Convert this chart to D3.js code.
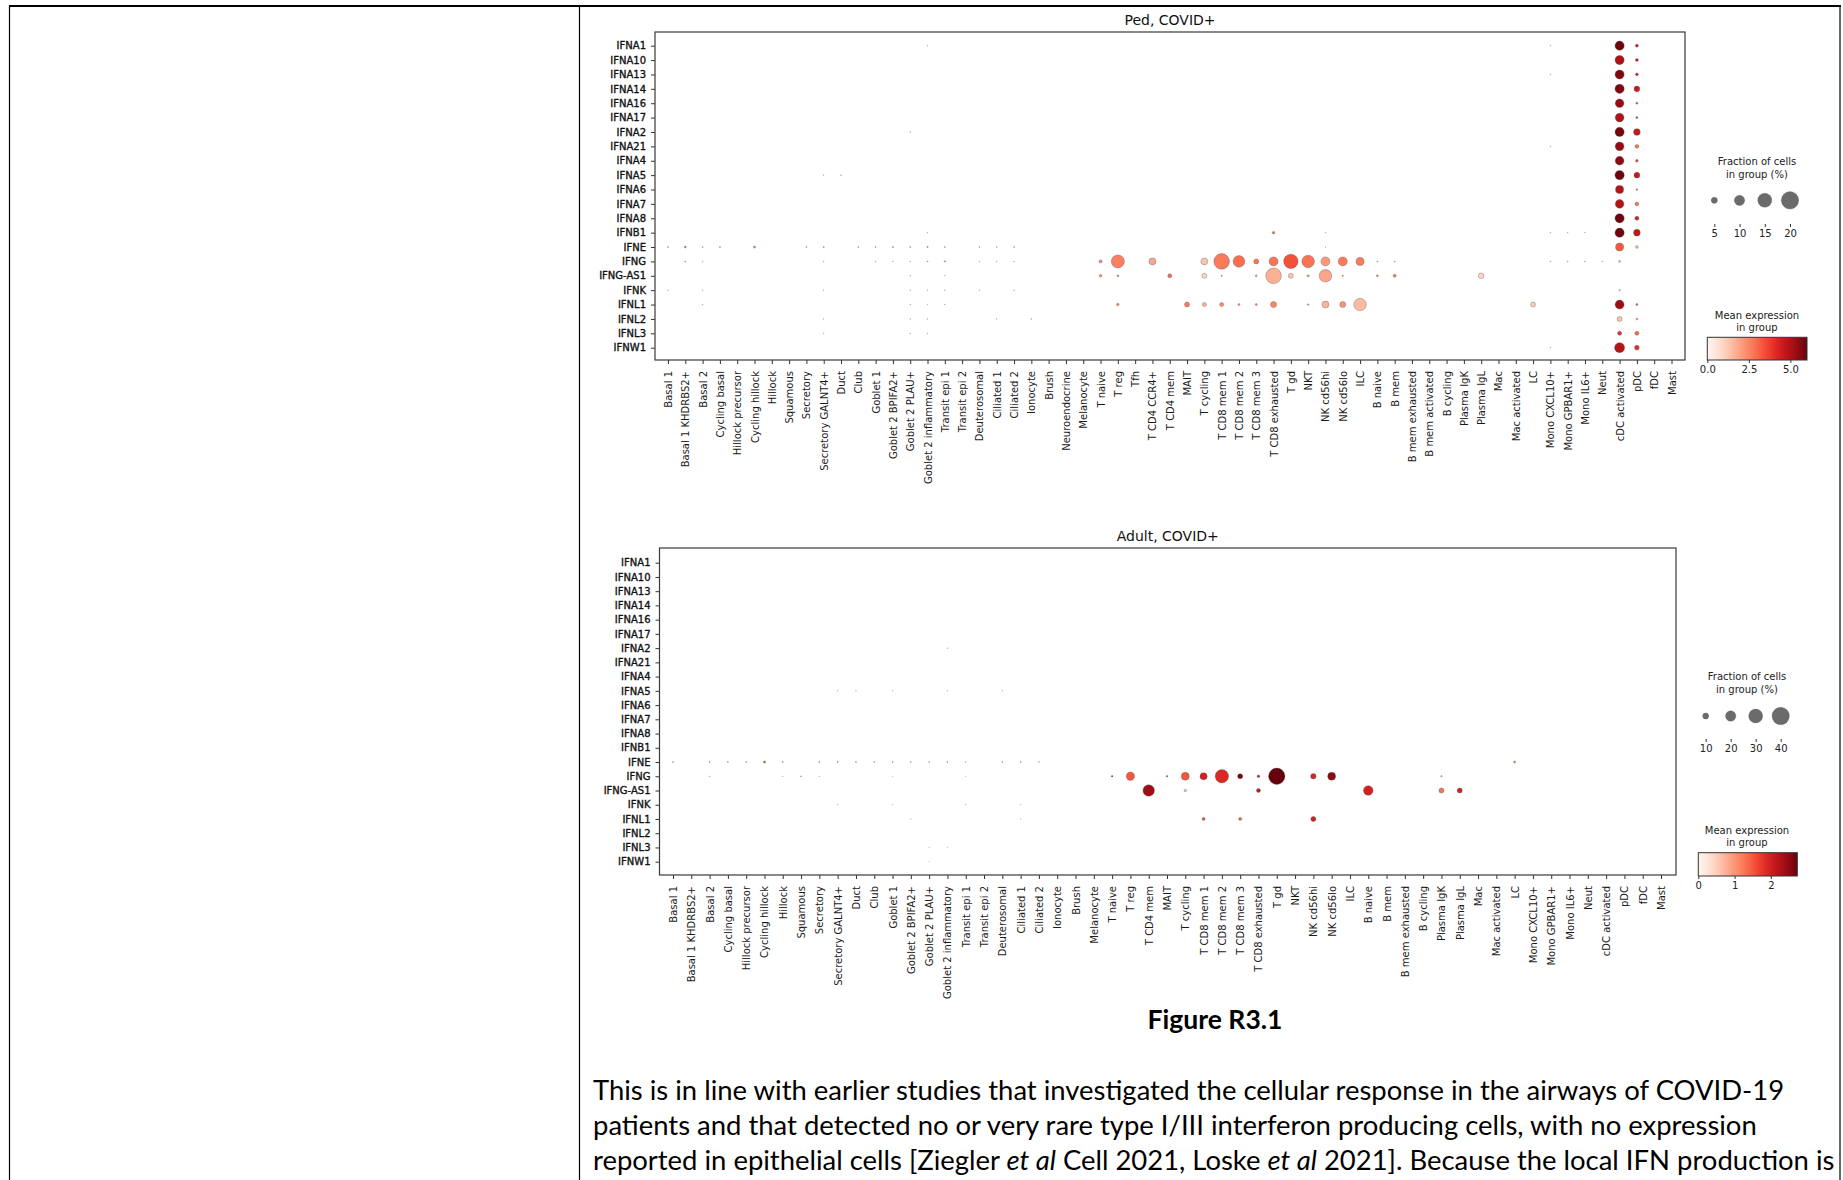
<!DOCTYPE html>
<html>
<head>
<meta charset="utf-8">
<script src="https://cdn.jsdelivr.net/npm/d3@7"></script>
<style>
  body { margin: 0; background: #fff; }
  svg text { font-family: "DejaVu Sans", sans-serif; }
</style>
</head>
<body>
<svg id="fig" width="1843" height="1180"></svg>
<script>
// ---- data ----
const genes = ["IFNA1", "IFNA10", "IFNA13", "IFNA14", "IFNA16", "IFNA17", "IFNA2", "IFNA21",
  "IFNA4", "IFNA5", "IFNA6", "IFNA7", "IFNA8", "IFNB1", "IFNE", "IFNG", "IFNG-AS1", "IFNK",
  "IFNL1", "IFNL2", "IFNL3", "IFNW1"];

const pedCells = ["Basal 1", "Basal 1 KHDRBS2+", "Basal 2", "Cycling basal", "Hillock precursor",
  "Cycling hillock", "Hillock", "Squamous", "Secretory", "Secretory GALNT4+", "Duct", "Club",
  "Goblet 1", "Goblet 2 BPIFA2+", "Goblet 2 PLAU+", "Goblet 2 inflammatory", "Transit epi 1",
  "Transit epi 2", "Deuterosomal", "Ciliated 1", "Ciliated 2", "Ionocyte", "Brush",
  "Neuroendocrine", "Melanocyte", "T naive", "T reg", "Tfh", "T CD4 CCR4+", "T CD4 mem", "MAIT",
  "T cycling", "T CD8 mem 1", "T CD8 mem 2", "T CD8 mem 3", "T CD8 exhausted", "T gd", "NKT",
  "NK cd56hi", "NK cd56lo", "ILC", "B naive", "B mem", "B mem exhausted", "B mem activated",
  "B cycling", "Plasma IgK", "Plasma IgL", "Mac", "Mac activated", "LC", "Mono CXCL10+",
  "Mono GPBAR1+", "Mono IL6+", "Neut", "cDC activated", "pDC", "fDC", "Mast"];

const adultCells = ["Basal 1", "Basal 1 KHDRBS2+", "Basal 2", "Cycling basal", "Hillock precursor",
  "Cycling hillock", "Hillock", "Squamous", "Secretory", "Secretory GALNT4+", "Duct", "Club",
  "Goblet 1", "Goblet 2 BPIFA2+", "Goblet 2 PLAU+", "Goblet 2 inflammatory", "Transit epi 1",
  "Transit epi 2", "Deuterosomal", "Ciliated 1", "Ciliated 2", "Ionocyte", "Brush", "Melanocyte",
  "T naive", "T reg", "T CD4 mem", "MAIT", "T cycling", "T CD8 mem 1", "T CD8 mem 2",
  "T CD8 mem 3", "T CD8 exhausted", "T gd", "NKT", "NK cd56hi", "NK cd56lo", "ILC", "B naive",
  "B mem", "B mem exhausted", "B cycling", "Plasma IgK", "Plasma IgL", "Mac", "Mac activated",
  "LC", "Mono CXCL10+", "Mono GPBAR1+", "Mono IL6+", "Neut", "cDC activated", "pDC", "fDC", "Mast"];

// [gene, cell type, fraction of cells (%), mean expression]
const pedDots = [
  ["IFNA1", "Goblet 2 inflammatory", 0.3, 0.4], ["IFNA1", "Mono CXCL10+", 0.3, 0.4],
  ["IFNA1", "cDC activated", 8.6, 5.9], ["IFNA1", "pDC", 1.9, 4.5],
  ["IFNA10", "cDC activated", 8.6, 5.0], ["IFNA10", "pDC", 1.9, 4.3],
  ["IFNA13", "Mono CXCL10+", 0.3, 0.4], ["IFNA13", "cDC activated", 8.4, 5.7], ["IFNA13", "pDC", 1.7, 4.4],
  ["IFNA14", "cDC activated", 8.6, 5.7], ["IFNA14", "pDC", 4.6, 4.6],
  ["IFNA16", "cDC activated", 7.8, 5.4], ["IFNA16", "pDC", 1.1, 3.6],
  ["IFNA17", "cDC activated", 8.0, 5.0], ["IFNA17", "pDC", 1.1, 4.0],
  ["IFNA2", "Goblet 2 PLAU+", 0.3, 0.4], ["IFNA2", "cDC activated", 8.6, 5.8], ["IFNA2", "pDC", 5.6, 4.6],
  ["IFNA21", "Mono CXCL10+", 0.3, 0.4], ["IFNA21", "cDC activated", 8.0, 5.4], ["IFNA21", "pDC", 2.6, 2.8],
  ["IFNA4", "cDC activated", 8.0, 5.5], ["IFNA4", "pDC", 1.7, 3.6],
  ["IFNA5", "Secretory GALNT4+", 0.3, 0.4], ["IFNA5", "Duct", 0.4, 0.8],
  ["IFNA5", "cDC activated", 8.6, 5.9], ["IFNA5", "pDC", 4.6, 4.6],
  ["IFNA6", "cDC activated", 7.2, 4.9], ["IFNA6", "pDC", 0.9, 3.0],
  ["IFNA7", "cDC activated", 7.8, 4.9], ["IFNA7", "pDC", 2.6, 2.8],
  ["IFNA8", "cDC activated", 8.6, 5.9], ["IFNA8", "pDC", 2.8, 4.3],
  ["IFNB1", "Goblet 2 inflammatory", 0.3, 0.4], ["IFNB1", "T CD8 exhausted", 1.5, 3.0],
  ["IFNB1", "NK cd56hi", 0.3, 0.6], ["IFNB1", "Mono CXCL10+", 0.3, 0.4], ["IFNB1", "Mono GPBAR1+", 0.3, 0.4],
  ["IFNB1", "Mono IL6+", 0.3, 0.4], ["IFNB1", "cDC activated", 8.6, 5.9], ["IFNB1", "pDC", 5.6, 4.7],
  ["IFNE", "Basal 1", 0.5, 1.5], ["IFNE", "Basal 1 KHDRBS2+", 1.0, 3.0], ["IFNE", "Basal 2", 0.5, 1.5],
  ["IFNE", "Cycling basal", 0.6, 1.5], ["IFNE", "Cycling hillock", 1.2, 2.6], ["IFNE", "Secretory", 0.5, 1.5],
  ["IFNE", "Secretory GALNT4+", 0.6, 1.8], ["IFNE", "Club", 0.5, 1.5], ["IFNE", "Goblet 1", 0.5, 1.5],
  ["IFNE", "Goblet 2 BPIFA2+", 0.6, 1.8], ["IFNE", "Goblet 2 PLAU+", 0.6, 1.5],
  ["IFNE", "Goblet 2 inflammatory", 0.7, 1.8], ["IFNE", "Transit epi 1", 0.5, 1.5],
  ["IFNE", "Deuterosomal", 0.4, 1.2], ["IFNE", "Ciliated 1", 0.4, 1.2], ["IFNE", "Ciliated 2", 0.5, 1.2],
  ["IFNE", "NK cd56hi", 0.3, 0.6], ["IFNE", "cDC activated", 7.1, 3.3], ["IFNE", "pDC", 1.7, 1.5],
  ["IFNG", "Basal 1 KHDRBS2+", 0.5, 1.8], ["IFNG", "Basal 2", 0.3, 0.6], ["IFNG", "Secretory GALNT4+", 0.3, 0.5],
  ["IFNG", "Goblet 1", 0.3, 0.5], ["IFNG", "Goblet 2 BPIFA2+", 0.3, 0.5], ["IFNG", "Goblet 2 PLAU+", 0.3, 0.5],
  ["IFNG", "Goblet 2 inflammatory", 0.5, 1.5], ["IFNG", "Transit epi 1", 0.7, 2.6],
  ["IFNG", "Deuterosomal", 0.3, 0.5], ["IFNG", "Ciliated 1", 0.3, 0.5], ["IFNG", "Ciliated 2", 0.3, 0.5],
  ["IFNG", "T naive", 1.9, 2.5], ["IFNG", "T reg", 13.6, 2.6], ["IFNG", "T CD4 CCR4+", 5.9, 1.9],
  ["IFNG", "T cycling", 5.9, 1.3], ["IFNG", "T CD8 mem 1", 17.3, 2.7], ["IFNG", "T CD8 mem 2", 11.7, 2.9],
  ["IFNG", "T CD8 mem 3", 3.8, 2.8], ["IFNG", "T CD8 exhausted", 8.3, 2.8], ["IFNG", "T gd", 15.5, 3.4],
  ["IFNG", "NKT", 12.9, 2.8], ["IFNG", "NK cd56hi", 8.3, 2.1], ["IFNG", "NK cd56lo", 8.3, 2.7],
  ["IFNG", "ILC", 7.1, 2.7], ["IFNG", "B naive", 0.5, 1.2], ["IFNG", "B mem", 0.5, 1.2],
  ["IFNG", "Mono CXCL10+", 0.4, 0.6], ["IFNG", "Mono GPBAR1+", 0.4, 0.6], ["IFNG", "Mono IL6+", 0.4, 0.6],
  ["IFNG", "Neut", 0.4, 0.6], ["IFNG", "cDC activated", 1.1, 1.5],
  ["IFNG-AS1", "Goblet 2 PLAU+", 0.3, 0.4], ["IFNG-AS1", "Transit epi 1", 0.3, 0.4],
  ["IFNG-AS1", "T naive", 1.5, 2.5], ["IFNG-AS1", "T reg", 1.1, 2.5], ["IFNG-AS1", "T CD4 mem", 2.8, 3.0],
  ["IFNG-AS1", "T cycling", 3.8, 1.0], ["IFNG-AS1", "T CD8 mem 1", 0.7, 2.0], ["IFNG-AS1", "T CD8 mem 3", 1.1, 2.0],
  ["IFNG-AS1", "T CD8 exhausted", 17.3, 1.7], ["IFNG-AS1", "T gd", 3.8, 1.3], ["IFNG-AS1", "NKT", 1.3, 2.2],
  ["IFNG-AS1", "NK cd56hi", 12.9, 1.9], ["IFNG-AS1", "NK cd56lo", 0.7, 2.0], ["IFNG-AS1", "B naive", 1.1, 2.5],
  ["IFNG-AS1", "B mem", 1.9, 2.7], ["IFNG-AS1", "Plasma IgL", 4.4, 1.0],
  ["IFNK", "Basal 1", 0.3, 0.4], ["IFNK", "Basal 2", 0.3, 0.4], ["IFNK", "Secretory GALNT4+", 0.3, 0.4],
  ["IFNK", "Goblet 2 PLAU+", 0.3, 0.4], ["IFNK", "Goblet 2 inflammatory", 0.3, 0.4],
  ["IFNK", "Transit epi 1", 0.3, 0.4], ["IFNK", "Deuterosomal", 0.3, 0.4], ["IFNK", "Ciliated 2", 0.3, 0.4],
  ["IFNK", "cDC activated", 0.8, 1.0],
  ["IFNL1", "Basal 2", 0.3, 0.4], ["IFNL1", "Goblet 2 PLAU+", 0.3, 0.4], ["IFNL1", "Goblet 2 inflammatory", 0.3, 0.4],
  ["IFNL1", "Transit epi 1", 0.3, 0.4], ["IFNL1", "T reg", 1.5, 2.5], ["IFNL1", "MAIT", 3.8, 2.7],
  ["IFNL1", "T cycling", 2.8, 1.6], ["IFNL1", "T CD8 mem 1", 2.8, 2.4], ["IFNL1", "T CD8 mem 2", 1.1, 2.5],
  ["IFNL1", "T CD8 mem 3", 1.1, 2.5], ["IFNL1", "T CD8 exhausted", 4.8, 2.5], ["IFNL1", "NKT", 0.8, 2.5],
  ["IFNL1", "NK cd56hi", 5.9, 1.6], ["IFNL1", "NK cd56lo", 4.8, 2.2], ["IFNL1", "ILC", 12.9, 1.5],
  ["IFNL1", "LC", 3.8, 1.2], ["IFNL1", "cDC activated", 8.3, 5.3], ["IFNL1", "pDC", 1.1, 3.5],
  ["IFNL2", "Secretory GALNT4+", 0.3, 0.4], ["IFNL2", "Goblet 2 PLAU+", 0.3, 0.4],
  ["IFNL2", "Goblet 2 inflammatory", 0.3, 0.4], ["IFNL2", "Ciliated 1", 0.3, 0.4], ["IFNL2", "Ionocyte", 0.4, 0.6],
  ["IFNL2", "cDC activated", 3.8, 1.3], ["IFNL2", "pDC", 1.1, 1.8],
  ["IFNL3", "Secretory GALNT4+", 0.3, 0.4], ["IFNL3", "Goblet 2 PLAU+", 0.3, 0.4],
  ["IFNL3", "Goblet 2 inflammatory", 0.3, 0.4], ["IFNL3", "cDC activated", 2.8, 4.0], ["IFNL3", "pDC", 2.8, 3.0],
  ["IFNW1", "Mono CXCL10+", 0.3, 0.4], ["IFNW1", "cDC activated", 9.6, 4.9], ["IFNW1", "pDC", 3.6, 4.0]
];

const adultDots = [
  ["IFNA2", "Goblet 2 inflammatory", 0.5, 0.3],
  ["IFNA5", "Secretory GALNT4+", 0.5, 0.3], ["IFNA5", "Duct", 0.5, 0.3], ["IFNA5", "Goblet 1", 0.5, 0.3],
  ["IFNA5", "Goblet 2 inflammatory", 0.5, 0.3], ["IFNA5", "Deuterosomal", 0.5, 0.3],
  ["IFNE", "Basal 1", 1.0, 0.8], ["IFNE", "Basal 2", 0.9, 0.8], ["IFNE", "Cycling basal", 0.9, 0.8],
  ["IFNE", "Hillock precursor", 0.9, 0.8], ["IFNE", "Cycling hillock", 2.5, 1.6], ["IFNE", "Hillock", 1.0, 1.0],
  ["IFNE", "Secretory", 1.0, 1.0], ["IFNE", "Secretory GALNT4+", 1.0, 0.9], ["IFNE", "Duct", 1.0, 0.9],
  ["IFNE", "Club", 0.9, 0.8], ["IFNE", "Goblet 1", 0.9, 0.8], ["IFNE", "Goblet 2 BPIFA2+", 0.9, 0.8],
  ["IFNE", "Goblet 2 PLAU+", 0.9, 0.8], ["IFNE", "Goblet 2 inflammatory", 0.9, 0.8],
  ["IFNE", "Transit epi 1", 0.7, 0.6], ["IFNE", "Deuterosomal", 0.9, 0.8], ["IFNE", "Ciliated 1", 0.9, 0.8],
  ["IFNE", "Ciliated 2", 0.8, 0.7], ["IFNE", "LC", 2.2, 1.2],
  ["IFNG", "Basal 2", 0.6, 0.8], ["IFNG", "Hillock", 0.5, 0.6], ["IFNG", "Squamous", 0.8, 1.8],
  ["IFNG", "Secretory", 0.5, 0.6], ["IFNG", "Goblet 1", 0.3, 0.3], ["IFNG", "Transit epi 1", 0.3, 0.3],
  ["IFNG", "T naive", 1.7, 2.4], ["IFNG", "T reg", 15.0, 1.5], ["IFNG", "MAIT", 1.7, 2.0],
  ["IFNG", "T cycling", 14.0, 1.5], ["IFNG", "T CD8 mem 1", 12.2, 2.0], ["IFNG", "T CD8 mem 2", 28.0, 1.9],
  ["IFNG", "T CD8 mem 3", 7.6, 2.65], ["IFNG", "T CD8 exhausted", 3.2, 2.0], ["IFNG", "T gd", 37.0, 2.73],
  ["IFNG", "NK cd56hi", 8.4, 1.95], ["IFNG", "NK cd56lo", 14.0, 2.5], ["IFNG", "Plasma IgK", 1.7, 0.7],
  ["IFNG-AS1", "T CD4 mem", 23.0, 2.4], ["IFNG-AS1", "T cycling", 2.9, 0.6],
  ["IFNG-AS1", "T CD8 exhausted", 5.6, 2.05], ["IFNG-AS1", "B naive", 18.0, 2.0],
  ["IFNG-AS1", "Plasma IgK", 7.6, 1.3], ["IFNG-AS1", "Plasma IgL", 7.6, 2.0],
  ["IFNK", "Secretory GALNT4+", 0.4, 0.3], ["IFNK", "Goblet 1", 0.4, 0.3], ["IFNK", "Transit epi 1", 0.4, 0.3],
  ["IFNK", "Ciliated 1", 0.4, 0.3],
  ["IFNL1", "Goblet 2 BPIFA2+", 0.4, 0.3], ["IFNL1", "Ciliated 1", 0.4, 0.3], ["IFNL1", "T CD8 mem 1", 3.8, 1.6],
  ["IFNL1", "T CD8 mem 3", 3.8, 1.4], ["IFNL1", "NK cd56hi", 7.6, 2.0],
  ["IFNL3", "Goblet 2 PLAU+", 0.4, 0.3], ["IFNL3", "Goblet 2 inflammatory", 0.3, 0.3],
  ["IFNW1", "Goblet 2 PLAU+", 0.3, 0.3]
];

const pedSizeTicks = [5, 10, 15, 20];
const adultSizeTicks = [10, 20, 30, 40];
const pedColorTicks = [0, 2.5, 5];
const adultColorTicks = [0, 1, 2];
const pedColorMax = 6.0;
const adultColorMax = 2.73;

const bodyLines = [
  [["This is in line with earlier studies that investigated the cellular response in the airways of COVID-19", false]],
  [["patients and that detected no or very rare type I/III interferon producing cells, with no expression", false]],
  [["reported in epithelial cells [Ziegler ", false], ["et al", true], [" Cell 2021, Loske ", false],
   ["et al", true], [" 2021]. Because the local IFN production is", false]]
];

// ---- drawing ----
const svg = d3.select("#fig");

// document table borders
svg.append("line").attr("x1", 9).attr("x2", 1841).attr("y1", 6).attr("y2", 6)
  .attr("stroke", "#000").attr("stroke-width", 2);
[9.5, 579.5, 1840].forEach(xv => {
  svg.append("line").attr("x1", xv).attr("x2", xv).attr("y1", 5).attr("y2", 1180)
    .attr("stroke", "#000").attr("stroke-width", 1.2);
});

function dotplot(p) {
  const g = svg.append("g");
  const x = d3.scalePoint().domain(p.cells).range([p.colStart, p.colEnd]);
  const y = d3.scalePoint().domain(genes).range([p.rowStart, p.rowEnd]);
  const r = d3.scalePow().exponent(0.75).domain([0, p.sizeMax]).range([0, 8.7]);
  const col = d3.scaleSequential(d3.interpolateReds).domain([0, p.colorMax]);
  const [x0, y0, x1, y1] = p.box;

  g.append("text").attr("x", (x0 + x1) / 2).attr("y", p.titleY)
    .attr("text-anchor", "middle").attr("font-size", 14).attr("fill", "#111").text(p.title);

  const ya = g.append("g").attr("transform", `translate(${x0},0)`)
    .call(d3.axisLeft(y).tickSize(4).tickPadding(5));
  ya.select(".domain").remove();
  ya.selectAll("line").attr("stroke", "#333");
  ya.selectAll("text").attr("font-family", "DejaVu Sans").attr("font-size", 10).attr("fill", "#111")
    .attr("stroke", "#111").attr("stroke-width", 0.35);

  const xa = g.append("g").attr("transform", `translate(0,${y1})`)
    .call(d3.axisBottom(x).tickSize(4));
  xa.select(".domain").remove();
  xa.selectAll("line").attr("stroke", "#333");
  xa.selectAll("text")
    .attr("font-family", "DejaVu Sans").attr("font-size", 10).attr("fill", "#1a1a1a")
    .attr("transform", "rotate(-90)").attr("text-anchor", "end")
    .attr("x", -11).attr("y", 0).attr("dy", "0.35em");

  g.append("g").selectAll("circle").data(p.dots).join("circle")
    .attr("cx", d => x(d[1])).attr("cy", d => y(d[0]))
    .attr("r", d => r(d[2]))
    .attr("fill", d => col(d[3]))
    .attr("stroke", "#555").attr("stroke-width", 0.35);

  g.append("rect").attr("x", x0).attr("y", y0).attr("width", x1 - x0).attr("height", y1 - y0)
    .attr("fill", "none").attr("stroke", "#3a3a3a").attr("stroke-width", 1.2);

  // size legend
  const L = p.legend;
  const lg = svg.append("g");
  ["Fraction of cells", "in group (%)"].forEach((t, i) => {
    lg.append("text").attr("x", L.cx).attr("y", L.sizeTitleY + i * 12.5).attr("text-anchor", "middle")
      .attr("font-size", 10).attr("fill", "#222").text(t);
  });
  const lx = d3.scalePoint().domain(p.sizeTicks).range([L.sizeX0, L.sizeX1]);
  lg.selectAll("circle").data(p.sizeTicks).join("circle")
    .attr("cx", d => lx(d)).attr("cy", L.sizeDotY).attr("r", d => r(d))
    .attr("fill", "#6b6b6b").attr("stroke", "#555").attr("stroke-width", 0.3);
  const la = lg.append("g").attr("transform", `translate(0,${L.sizeTickY})`)
    .call(d3.axisBottom(lx).tickSize(3).tickPadding(3));
  la.select(".domain").remove();
  la.selectAll("line").attr("stroke", "#333");
  la.selectAll("text").attr("font-family", "DejaVu Sans").attr("font-size", 10).attr("fill", "#222");

  // colour bar legend
  ["Mean expression", "in group"].forEach((t, i) => {
    lg.append("text").attr("x", L.cx).attr("y", L.barTitleY + i * 12.5).attr("text-anchor", "middle")
      .attr("font-size", 10).attr("fill", "#222").text(t);
  });
  const gid = "grad" + p.id;
  const grad = svg.append("defs").append("linearGradient").attr("id", gid);
  d3.range(0, 1.0001, 0.05).forEach(t => {
    grad.append("stop").attr("offset", t).attr("stop-color", d3.interpolateReds(t));
  });
  lg.append("rect").attr("x", L.barX0).attr("y", L.barY0).attr("width", L.barX1 - L.barX0)
    .attr("height", L.barY1 - L.barY0).attr("fill", `url(#${gid})`)
    .attr("stroke", "#333").attr("stroke-width", 1);
  const cb = d3.scaleLinear().domain([0, p.colorMax]).range([L.barX0, L.barX1]);
  const ca = lg.append("g").attr("transform", `translate(0,${L.barY1})`)
    .call(d3.axisBottom(cb).tickValues(p.colorTicks).tickFormat(p.colorFmt).tickSize(3).tickPadding(3));
  ca.select(".domain").remove();
  ca.selectAll("line").attr("stroke", "#333");
  ca.selectAll("text").attr("font-family", "DejaVu Sans").attr("font-size", 10).attr("fill", "#222");
}

dotplot({
  id: "ped", title: "Ped, COVID+", titleY: 25, cells: pedCells, dots: pedDots,
  box: [655, 32, 1685, 360], colStart: 668, colEnd: 1671.5, rowStart: 45.7, rowEnd: 347.7,
  sizeMax: 20, colorMax: pedColorMax, sizeTicks: pedSizeTicks, colorTicks: pedColorTicks,
  colorFmt: d3.format(".1f"),
  legend: { cx: 1757, sizeTitleY: 165, sizeX0: 1714.3, sizeX1: 1790, sizeDotY: 200.3, sizeTickY: 224,
    barTitleY: 318.5, barX0: 1707.3, barX1: 1807, barY0: 337.3, barY1: 360 }
});

dotplot({
  id: "adult", title: "Adult, COVID+", titleY: 541, cells: adultCells, dots: adultDots,
  box: [659.5, 548, 1676, 875], colStart: 673, colEnd: 1661, rowStart: 562.7, rowEnd: 861.7,
  sizeMax: 40, colorMax: adultColorMax, sizeTicks: adultSizeTicks, colorTicks: adultColorTicks,
  colorFmt: d3.format("d"),
  legend: { cx: 1747, sizeTitleY: 680, sizeX0: 1705.7, sizeX1: 1780.7, sizeDotY: 716, sizeTickY: 739,
    barTitleY: 833.5, barX0: 1698.3, barX1: 1797.3, barY0: 852.7, barY1: 876 }
});

// caption and body text
const cap = svg.append("text").attr("x", 1215).attr("y", 1029).attr("text-anchor", "middle")
  .style("font-family", "Lato, 'Open Sans', sans-serif").attr("font-weight", "bold")
  .attr("font-size", 24).attr("fill", "#000").text("Figure R3.1");
const capW = cap.node().getComputedTextLength();
cap.attr("font-size", 24 * 135 / capW);

const bodyY = [1100, 1135, 1170];
const bodyTexts = bodyLines.map((parts, i) => {
  const t = svg.append("text").attr("x", 593).attr("y", bodyY[i])
    .style("font-family", "Lato, 'Open Sans', sans-serif").attr("font-size", 24).attr("fill", "#000");
  parts.forEach(([s, it]) => t.append("tspan").attr("font-style", it ? "italic" : "normal").text(s));
  return t;
});
const w0 = bodyTexts[0].node().getComputedTextLength();
const fs = 24 * 1192 / w0;
bodyTexts.forEach(t => t.attr("font-size", fs));
</script>
</body>
</html>
